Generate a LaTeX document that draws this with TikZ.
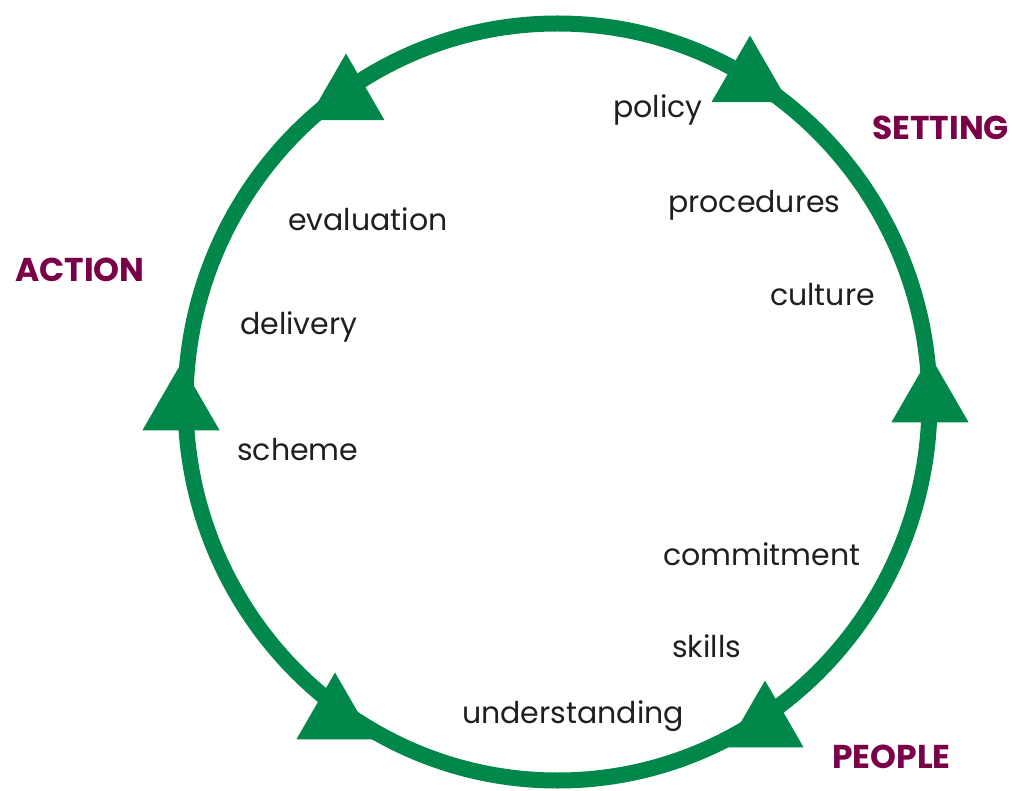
\documentclass[tikz,border=0pt]{standalone}
\usepackage{fontspec}
\setmainfont{Poppins}
\usetikzlibrary{shapes.geometric}
\definecolor{cyclegreen}{RGB}{0,135,73}
\definecolor{phasered}{RGB}{122,0,72}
\tikzset{
  ring/.style={draw=cyclegreen,line width=16pt},
  tip/.style={regular polygon,regular polygon sides=3,fill=cyclegreen,
              inner sep=0pt,minimum size=89pt},
  item/.style={anchor=base west,inner sep=0pt,text=black!88,
               font=\fontsize{30}{32}\selectfont},
  phase/.style={anchor=base west,inner sep=0pt,text=phasered,
                font=\fontsize{33}{36}\selectfont\bfseries}
}

\begin{document}
\begin{tikzpicture}[x=1pt,y=-1pt]
  \useasboundingbox (0,0) rectangle (1012,791);
  % ---- the cycle ----
  \draw[ring] (557.5,402) ellipse [x radius=372pt,y radius=378.5pt];
  \node[tip] (tipTL) at (346,98) {};
  \node[tip] (tipTR) at (750,80) {};
  \node[tip] (tipL) at (181,408) {};
  \node[tip] (tipR) at (930,400) {};
  \node[tip] (tipBL) at (335,717) {};
  \node[tip] (tipBR) at (765,725) {};
  % ---- phases ----
  \node[phase] (setting) at (872,140) {SETTING};
  \node[phase] (action) at (15,282) {ACTION};
  \node[phase] (people) at (832,768) {PEOPLE};
  % ---- setting items ----
  \node[item] (policy) at (613,118) {policy};
  \node[item] (procedures) at (668,213) {procedures};
  \node[item] (culture) at (770,306) {culture};
  % ---- action items ----
  \node[item] (evaluation) at (288,231) {evaluation};
  \node[item] (delivery) at (240,335) {delivery};
  \node[item] (scheme) at (237,460) {scheme};
  % ---- people items ----
  \node[item] (commitment) at (663,565) {commitment};
  \node[item] (skills) at (672,657) {skills};
  \node[item] (understanding) at (462,723) {understanding};
\end{tikzpicture}
\end{document}
